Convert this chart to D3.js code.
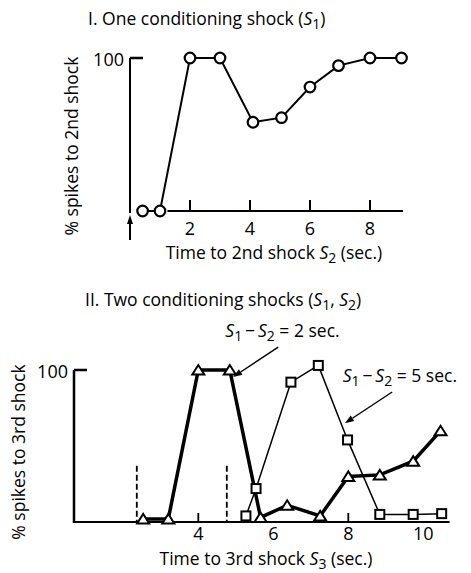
<!DOCTYPE html>
<html><head><meta charset="utf-8">
<script src="https://cdn.jsdelivr.net/npm/d3@7"></script>
<style>body{margin:0;background:#fff}text{font-family:"Open Sans",Lato,sans-serif;fill:#000}</style>
</head><body><svg id="c" width="471" height="573"></svg>
<script>
// ---- Panel I data ----
const p1X = [0.42, 1, 2, 3, 4.1, 5.05, 6, 6.95, 8, 9.05];
const p1Y = [0, 0, 100, 100, 58, 61, 81, 95, 100, 100];
const p1Ticks = [2, 4, 6, 8];
// ---- Panel II data ----
const triX = [2.53, 3.2, 4, 4.84, 5.66, 6.37, 7.25, 8.0, 8.84, 9.73, 10.46];
const triY = [2, 2, 100, 100, 3, 11, 4, 30, 31, 40, 60];
const sqX = [5.27, 5.54, 6.47, 7.2, 7.98, 8.84, 9.73, 10.49];
const sqY = [4, 22, 92, 103, 54, 5, 5, 5.5];
const p2Ticks = [4, 8];
const p2TickLabels = [4, 6, 8, 10];
const shockX = [2.36, 4.76];
const shockTop = 37;

const svg = d3.select("#c");
const FS = 17.5;

function rich(sel, parts, size) {
  parts.forEach(([t, s]) => {
    const ts = sel.append("tspan").text(t).style("font-size", size + "px");
    if (s === "i") ts.style("font-style", "italic");
    if (s === "sub") ts.attr("dy", size * 0.22).style("font-size", (size * 0.8) + "px");
    if (s === "up") ts.attr("dy", -size * 0.22);
  });
  return sel;
}

// ================= Panel I =================
const x1 = d3.scaleLinear().domain([0, 9]).range([130, 400]);
const y1 = d3.scaleLinear().domain([0, 100]).range([211, 58]);

rich(svg.append("text").attr("x", 88).attr("y", 25),
  [["I. One conditioning shock (", ""], ["S", "i"], ["1", "sub"], [")", "up"]], FS);

svg.append("line").attr("x1", x1(0)).attr("x2", x1(0)).attr("y1", y1(100)).attr("y2", y1(0) + 2)
  .attr("stroke", "#000").attr("stroke-width", 2);
svg.append("line").attr("x1", x1(0)).attr("x2", x1(0) + 13).attr("y1", y1(100)).attr("y2", y1(100))
  .attr("stroke", "#000").attr("stroke-width", 2.5);
svg.append("text").attr("x", x1(0) - 6).attr("y", y1(100) + 8).attr("text-anchor", "end")
  .style("font-size", "18px").text("100");
svg.append("line").attr("x1", x1(0)).attr("x2", x1(0)).attr("y1", 240).attr("y2", 222)
  .attr("stroke", "#000").attr("stroke-width", 2);
svg.append("path").attr("d", `M${x1(0) - 3},${224} L${x1(0) + 3},${224} L${x1(0)},${215} Z`).attr("fill", "#000");

svg.append("line").attr("x1", x1(1.25)).attr("x2", x1(9.1)).attr("y1", y1(0)).attr("y2", y1(0))
  .attr("stroke", "#000").attr("stroke-width", 2);
svg.selectAll(".t1").data(p1Ticks).enter().append("line")
  .attr("x1", d => x1(d)).attr("x2", d => x1(d)).attr("y1", y1(0)).attr("y2", y1(0) - 11)
  .attr("stroke", "#000").attr("stroke-width", 2);
svg.selectAll(".tl1").data(p1Ticks).enter().append("text")
  .attr("x", d => x1(d)).attr("y", 235).attr("text-anchor", "middle").style("font-size", "18px").text(d => d);

rich(svg.append("text").attr("x", 274).attr("y", 259).attr("text-anchor", "middle"),
  [["Time to 2nd shock ", ""], ["S", "i"], ["2", "sub"], [" (sec.)", "up"]], FS);
svg.append("text").attr("transform", "translate(78,146) rotate(-90)").attr("text-anchor", "middle")
  .style("font-size", FS + "px").text("% spikes to 2nd shock");

const p1 = p1X.map((x, i) => [x, p1Y[i]]);
svg.append("path").attr("d", d3.line().x(d => x1(d[0])).y(d => y1(d[1]))(p1))
  .attr("fill", "none").attr("stroke", "#000").attr("stroke-width", 2);
svg.selectAll(".c1").data(p1).enter().append("circle")
  .attr("cx", d => x1(d[0])).attr("cy", d => y1(d[1])).attr("r", 5.3)
  .attr("fill", "#fff").attr("stroke", "#000").attr("stroke-width", 2.2);

// ================= Panel II =================
const x2 = d3.scaleLinear().domain([0, 10]).range([48.3, 423.3]);
const y2 = d3.scaleLinear().domain([0, 100]).range([522, 370]);

rich(svg.append("text").attr("x", 85).attr("y", 306),
  [["II. Two conditioning shocks (", ""], ["S", "i"], ["1", "sub"], [", ", "up"], ["S", "i"], ["2", "sub"], [")", "up"]], FS);

svg.append("line").attr("x1", 74).attr("x2", 74).attr("y1", y2(100)).attr("y2", y2(0) + 1)
  .attr("stroke", "#000").attr("stroke-width", 2.5);
svg.append("line").attr("x1", 74).attr("x2", 87).attr("y1", y2(100)).attr("y2", y2(100))
  .attr("stroke", "#000").attr("stroke-width", 2.5);
svg.append("text").attr("x", 68).attr("y", y2(100) + 8).attr("text-anchor", "end")
  .style("font-size", "18px").text("100");
svg.append("line").attr("x1", 74).attr("x2", x2(10.7)).attr("y1", y2(0)).attr("y2", y2(0))
  .attr("stroke", "#000").attr("stroke-width", 2);
svg.selectAll(".t2").data(p2Ticks).enter().append("line")
  .attr("x1", d => x2(d)).attr("x2", d => x2(d)).attr("y1", y2(0)).attr("y2", y2(0) - 9)
  .attr("stroke", "#000").attr("stroke-width", 1.8);
svg.selectAll(".tl2").data(p2TickLabels).enter().append("text")
  .attr("x", d => x2(d)).attr("y", 540).attr("text-anchor", "middle").style("font-size", "18px").text(d => d);
rich(svg.append("text").attr("x", 266).attr("y", 565).attr("text-anchor", "middle"),
  [["Time to 3rd shock ", ""], ["S", "i"], ["3", "sub"], [" (sec.)", "up"]], FS);
svg.append("text").attr("transform", "translate(25,452) rotate(-90)").attr("text-anchor", "middle")
  .style("font-size", FS + "px").text("% spikes to 3rd shock");

svg.selectAll(".sh").data(shockX).enter().append("line")
  .attr("x1", d => x2(d)).attr("x2", d => x2(d)).attr("y1", y2(shockTop)).attr("y2", y2(0))
  .attr("stroke", "#000").attr("stroke-width", 1.8).attr("stroke-dasharray", "6,3");

const tri = triX.map((x, i) => [x, triY[i]]);
const sq = sqX.map((x, i) => [x, sqY[i]]);
const ln = d3.line().x(d => x2(d[0])).y(d => y2(d[1]));
svg.append("path").attr("d", ln(sq)).attr("fill", "none").attr("stroke", "#000").attr("stroke-width", 1.5);
svg.append("path").attr("d", ln(tri)).attr("fill", "none").attr("stroke", "#000").attr("stroke-width", 3.5);

svg.selectAll(".sq").data(sq).enter().append("rect")
  .attr("x", d => x2(d[0]) - 4.5).attr("y", d => y2(d[1]) - 4.5).attr("width", 9).attr("height", 9)
  .attr("fill", "#fff").attr("stroke", "#000").attr("stroke-width", 2);
svg.selectAll(".tr").data(tri).enter().append("path")
  .attr("d", d => { const cx = x2(d[0]), cy = y2(d[1]); return `M${cx - 6},${cy + 4.5} L${cx + 6},${cy + 4.5} L${cx},${cy - 5} Z`; })
  .attr("fill", "#fff").attr("stroke", "#000").attr("stroke-width", 2).attr("stroke-linejoin", "miter");

// annotations (data units)
const annText = [[4.72, 121], [7.85, 91.4]];
const annVal = ["2", "5"];
const annFrom = [[6.13, 115], [9.17, 85.5]];
const annTo = [[4.93, 95.4], [7.91, 65]];
annText.forEach((p, i) => {
  rich(svg.append("text").attr("x", x2(p[0])).attr("y", y2(p[1]) - 1),
    [["S", "i"], ["1", "sub"], ["\u2009\u2212\u2009", "up"], ["S", "i"], ["2", "sub"], [" = " + annVal[i] + " sec.", "up"]], FS);
  const ax0 = x2(annFrom[i][0]), ay0 = y2(annFrom[i][1]), ax1 = x2(annTo[i][0]), ay1 = y2(annTo[i][1]);
  const ang = Math.atan2(ay1 - ay0, ax1 - ax0);
  const hl = 9, hw = 3.2;
  const bx = ax1 - hl * Math.cos(ang), by = ay1 - hl * Math.sin(ang);
  svg.append("line").attr("x1", ax0).attr("y1", ay0).attr("x2", bx).attr("y2", by)
    .attr("stroke", "#000").attr("stroke-width", 1.4);
  svg.append("path").attr("d", `M${ax1},${ay1} L${bx + hw * Math.sin(ang)},${by - hw * Math.cos(ang)} L${bx - hw * Math.sin(ang)},${by + hw * Math.cos(ang)} Z`)
    .attr("fill", "#000");
});
</script></body></html>
